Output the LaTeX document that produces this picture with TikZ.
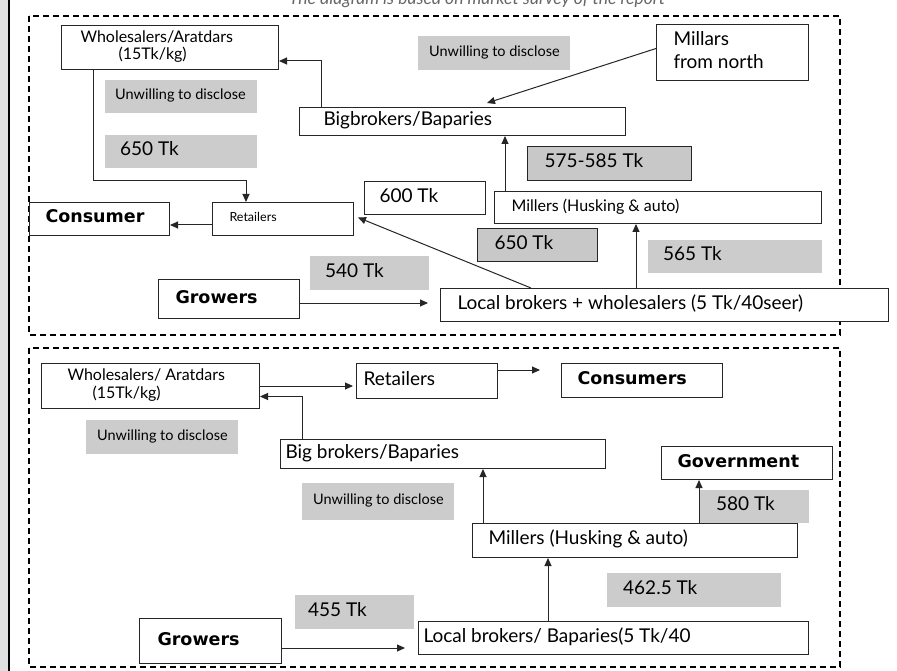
\documentclass[tikz,border=0pt]{standalone}
\usepackage{fontspec}
\setmainfont{Lato}
\newfontfamily\heavyfont{DejaVu Sans}
\usetikzlibrary{arrows.meta,calc}

\definecolor{lab}{HTML}{CCCCCC}
\definecolor{labd}{HTML}{C8C8C8}
\definecolor{edge}{HTML}{262626}

% box from (x1,y1) to (x2,y2), left padding, text set flush left
\newcommand{\bnode}[8][]{%
  \pgfmathsetmacro\bnw{#5-#3-2*#7}%
  \pgfmathsetmacro\bnh{#6-#4}%
  \node[anchor=north west, inner xsep=#7pt, inner ysep=0pt,
        minimum height=\bnh pt, #1] (#2) at (#3,#4)
    {\makebox[\bnw pt][l]{\begin{tabular}{@{}l@{}}#8\end{tabular}}};}

\tikzset{
  bx/.style={draw=edge, fill=white, line width=1pt},
  gb/.style={fill=lab},
  gbd/.style={fill=labd, draw=edge, line width=1pt},
  fA/.style={font=\fontsize{19}{21}\selectfont},
  fL/.style={font=\fontsize{19}{23}\selectfont},
  fM/.style={font=\fontsize{16}{16.5}\selectfont},
  fR/.style={font=\fontsize{12.5}{14}\selectfont},
  fS/.style={font=\fontsize{14.5}{16}\selectfont},
  fB/.style={font=\fontsize{17.5}{20}\selectfont\heavyfont\bfseries},
  arr/.style={draw=edge, line width=1pt, -{Triangle[length=8pt,width=7pt]}},
  frame/.style={draw=black, line width=1.4pt, dash pattern=on 6pt off 4pt}
}

\begin{document}
\begin{tikzpicture}[x=1pt,y=-1pt]
\useasboundingbox (0,0) rectangle (897,671);
\fill[white] (0,0) rectangle (897,671);

% page edge on the left
\fill[black!12] (0,0) rectangle (8,671);
\draw[line width=2pt] (9,0) -- (9,671);

% caption, cut by the top edge
\node[font=\itshape\fontsize{17.5}{19}\selectfont, text=black!60, anchor=base, inner sep=0pt]
  (cap) at (477,5) {The diagram is based on market survey of the report};

% the two survey areas
\draw[frame] (29,16) rectangle (840,335);
\draw[frame] (29,348) rectangle (840,667);

% ---------- first chain ----------
\bnode[bx,fM]{wsT}{61}{25}{278}{69}{19}{Wholesalers/Aratdars\\\hspace*{38pt}(15Tk/kg)}
\bnode[gb,fS]{unT1}{105}{80}{257}{113}{10}{Unwilling to disclose}
\bnode[gb,fS]{unT2}{418}{36}{570}{70}{11}{Unwilling to disclose}
\bnode[bx,fL]{mnT}{656}{24}{808}{80}{17}{Millars\\from north}
\bnode[bx,fA]{bbT}{299}{107}{625}{135}{24}{Bigbrokers/Baparies}
\bnode[gb,fA]{p650a}{105}{135}{257}{168}{15}{650 Tk}
\bnode[gbd,fA]{p575}{527}{146}{691}{180}{17}{575-585 Tk}
\bnode[bx,fA]{p600}{364}{181}{485}{214}{15}{600 Tk}
\bnode[bx,fM]{miT}{494}{191}{821}{223}{17}{Millers (Husking \& auto)}
\bnode[bx,fB]{csT}{29}{202}{169}{235}{16}{Consumer}
\bnode[bx,fR]{rtT}{212}{202}{353}{235}{17}{Retailers}
\bnode[gbd,fA]{p650b}{477}{228}{597}{261}{17}{650 Tk}
\bnode[gb,fA]{p565}{648}{240}{822}{273}{15}{565 Tk}
\bnode[gb,fA]{p540}{310}{256}{429}{290}{15}{540 Tk}
\bnode[bx,fB]{grT}{158}{279}{299}{318}{17}{Growers}
\bnode[bx,fA]{lbT}{440}{288}{888}{321}{17}{Local brokers + wholesalers (5 Tk/40seer)}

\coordinate (a1) at ([xshift=22pt]bbT.north west);
\coordinate (a1e) at ([yshift=9pt]wsT.south east);
\draw[arr] (a1) |- (a1e);
\coordinate (a2) at ([yshift=4pt]mnT.west);
\coordinate (a2e) at ([xshift=188pt,yshift=4pt]bbT.north west);
\draw[arr] (a2) -- (a2e);
\coordinate (a3) at ([xshift=32pt]wsT.south west);
\coordinate (a3k) at ([xshift=34pt,yshift=21pt]rtT.north west);
\coordinate (a3e) at ([xshift=34pt]rtT.north west);
\draw[arr] (a3) |- (a3k) -- (a3e);
\coordinate (a4) at ([yshift=-6pt]rtT.west);
\draw[arr] (a4) -- (a4 -| csT.east);
\coordinate (a5) at ([xshift=11pt]miT.north west);
\draw[arr] (a5) -- (a5 |- bbT.south);
\coordinate (a6) at ([xshift=91pt]lbT.north west);
\coordinate (a6e) at ([xshift=4pt,yshift=1.5pt]rtT.east);
\draw[arr] (a6) -- (a6e);
\coordinate (a7) at ([xshift=196pt]lbT.north west);
\draw[arr] (a7) -- (a7 |- miT.south);
\coordinate (a8) at ([yshift=-4pt]grT.east);
\draw[arr, shorten >=12pt] (a8) -- (a8 -| lbT.west);

% ---------- second chain ----------
\bnode[bx,fM]{wsB}{41}{363}{259}{408}{26}{Wholesalers/ Aratdars\\\hspace*{25pt}(15Tk/kg)}
\bnode[bx,fA]{rtB}{356}{363}{497}{398}{7}{Retailers}
\bnode[bx,fB]{csB}{561}{363}{722}{397}{16}{Consumers}
\bnode[gb,fS]{unB1}{86}{420}{238}{454}{11}{Unwilling to disclose}
\bnode[bx,fA]{bbB}{280}{439}{605}{468}{5}{Big brokers/Baparies}
\bnode[bx,fB]{gvB}{661}{446}{832}{479}{16}{Government}
\bnode[gb,fS]{unB2}{302}{483}{454}{520}{11}{Unwilling to disclose}
\bnode[gb,fA]{p580}{699}{490}{809}{523}{17}{580 Tk}
\bnode[bx,fA]{miB}{472}{523}{797}{557}{16}{Millers (Husking \& auto)}
\bnode[gb,fA]{p462}{607}{573}{781}{607}{16}{462.5 Tk}
\bnode[gb,fA]{p455}{295}{595}{414}{629}{13}{455 Tk}
\bnode[bx,fB]{grB}{139}{618}{281}{663}{18}{Growers}
\bnode[bx,fA]{lbB}{418}{621}{808}{654}{5}{Local brokers/ Baparies(5 Tk/40}

\draw[arr, shorten >=3pt] (wsB.east) -- (wsB.east -| rtB.west);
\coordinate (b2) at ([yshift=11pt]rtB.east);
\draw[arr, shorten >=21pt] (b2) -- (b2 -| csB.west);
\coordinate (b3) at ([xshift=22pt]bbB.north west);
\coordinate (b3e) at ([yshift=-10.5pt]wsB.east);
\draw[arr] (b3) |- (b3e);
\coordinate (b4) at ([xshift=11pt]miB.north west);
\draw[arr] (b4) -- (b4 |- bbB.south);
\coordinate (b5) at ([xshift=227pt]miB.north west);
\draw[arr] (b5) -- (b5 |- gvB.south);
\coordinate (b6) at ([xshift=130pt]lbB.north west);
\draw[arr] (b6) -- (b6 |- miB.south);
\coordinate (b7) at ([yshift=-7pt]grB.east);
\draw[arr, shorten >=13pt] (b7) -- (b7 -| lbB.west);
\end{tikzpicture}
\end{document}
